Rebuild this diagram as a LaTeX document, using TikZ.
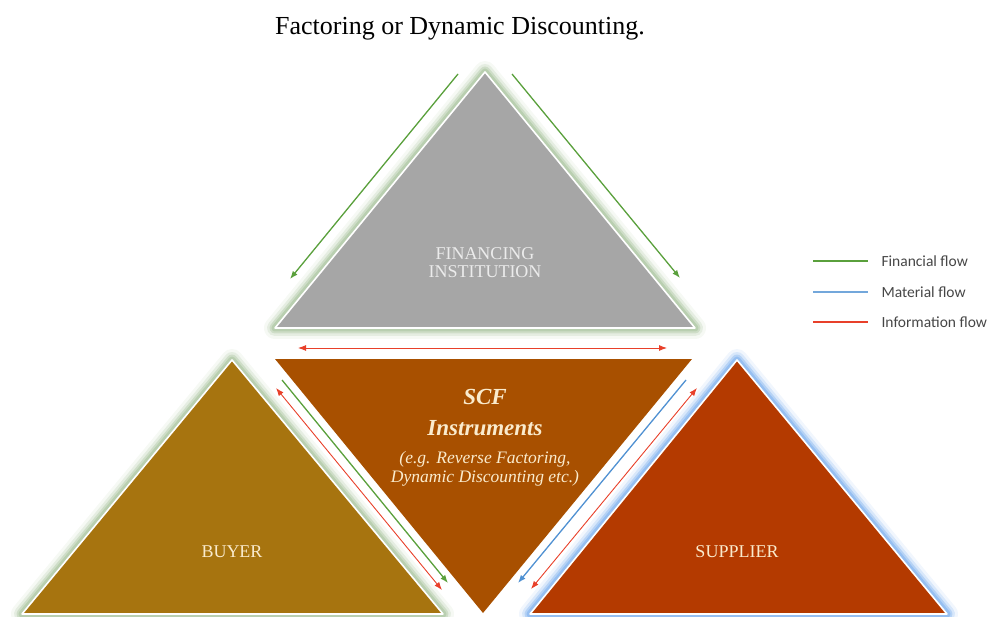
\documentclass[tikz,border=0pt]{standalone}
\usepackage{fontspec}
\setmainfont{Liberation Serif}
\newfontfamily\legendfont{Carlito}
\usetikzlibrary{arrows.meta}
\definecolor{finGrey}{RGB}{166,166,166}
\definecolor{scfBrown}{RGB}{168,80,0}
\definecolor{buyerOchre}{RGB}{167,116,15}
\definecolor{supRust}{RGB}{180,58,0}
\definecolor{haloGreen}{RGB}{178,202,168}
\definecolor{haloBlue}{RGB}{140,185,240}
\definecolor{flowGreen}{RGB}{90,160,60}
\definecolor{flowBlue}{RGB}{80,145,210}
\definecolor{flowRed}{RGB}{232,64,42}
\definecolor{labelCream}{RGB}{250,235,205}
\definecolor{legendText}{RGB}{70,70,70}
\tikzset{
  trifill/.style={draw=white, line width=1.6pt, line join=round},
  halo/.style={line join=round, draw=#1},
  flowarrow/.style={line width=1.3pt, -{Latex[length=8pt,width=6pt]}},
  infoarrow/.style={line width=0.9pt, draw=flowRed, {Latex[length=8pt,width=6pt]}-{Latex[length=8pt,width=6pt]}},
  triLabel/.style={font=\fontsize{18}{20}\selectfont, text=labelCream, align=center},
  legLine/.style={line width=2.6pt},
  legLabel/.style={anchor=west, font=\legendfont\fontsize{15.5}{17}\selectfont, text=legendText}
}
\begin{document}
\begin{tikzpicture}[x=1pt,y=-1pt]
\useasboundingbox (0,0) rectangle (990,617);
% vertices
\coordinate (fA) at (485,72);  \coordinate (fL) at (275,328); \coordinate (fR) at (695,328);
\coordinate (sL) at (275,359); \coordinate (sR) at (692,359); \coordinate (sB) at (483,613);
\coordinate (bA) at (232,360); \coordinate (bL) at (22,614);  \coordinate (bR) at (443,614);
\coordinate (pA) at (737,360); \coordinate (pL) at (530,614); \coordinate (pR) at (947,614);
% title
\node[font=\fontsize{26}{30}\selectfont, anchor=base] (title) at (460,35) {Factoring or Dynamic Discounting.};
% halos
\foreach \w/\o in {22/0.12, 16/0.25, 11/0.45, 7/0.75}{
  \draw[halo=haloGreen, line width=\w pt, opacity=\o] (fA)--(fL)--(fR)--cycle;
  \draw[halo=haloGreen, line width=\w pt, opacity=\o] (bA)--(bL)--(bR)--cycle;
  \draw[halo=haloBlue, line width=\w pt, opacity=\o] (pA)--(pL)--(pR)--cycle;
}
% triangles
\filldraw[trifill, fill=finGrey] (fA)--(fL)--(fR)--cycle;
\filldraw[trifill, fill=buyerOchre] (bA)--(bL)--(bR)--cycle;
\filldraw[trifill, fill=supRust] (pA)--(pL)--(pR)--cycle;
\fill[scfBrown] (sL)--(sR)--(sB)--cycle;
% labels
\node[triLabel, text=white!92!black] (fin) at (485,263) {FINANCING\\[-2pt]INSTITUTION};
\node[triLabel, anchor=base] (buyer) at (232,557) {BUYER};
\node[triLabel, anchor=base] (supp) at (737,557) {SUPPLIER};
\node[triLabel, anchor=base, font=\fontsize{23}{26}\selectfont\itshape\bfseries] (scfA) at (485,404) {SCF};
\node[triLabel, anchor=base, font=\fontsize{23}{26}\selectfont\itshape\bfseries] (scfB) at (485,435) {Instruments};
\node[triLabel, anchor=base, font=\fontsize{17.5}{19}\selectfont\itshape] (scfC) at (485,463) {(e.g. Reverse Factoring,};
\node[triLabel, anchor=base, font=\fontsize{17.5}{19}\selectfont\itshape] (scfD) at (485,482) {Dynamic Discounting etc.)};
% arrow endpoints
\coordinate (gL1) at (458,74); \coordinate (gL2) at (290,279);
\coordinate (gR1) at (512,74); \coordinate (gR2) at (680,278);
\coordinate (rT1) at (298,348); \coordinate (rT2) at (667,348);
\coordinate (gB1) at (282,380); \coordinate (gB2) at (448,583);
\coordinate (rB1) at (276,388); \coordinate (rB2) at (442,590);
\coordinate (bS1) at (686,380); \coordinate (bS2) at (518,583);
\coordinate (rS1) at (697,388); \coordinate (rS2) at (531,589);
% arrows
\draw[flowarrow, draw=flowGreen, fill=flowGreen] (gL1) -- (gL2);
\draw[flowarrow, draw=flowGreen, fill=flowGreen] (gR1) -- (gR2);
\draw[infoarrow] (rT1) -- (rT2);
\draw[flowarrow, draw=flowGreen] (gB1) -- (gB2);
\draw[infoarrow] (rB1) -- (rB2);
\draw[flowarrow, draw=flowBlue] (bS1) -- (bS2);
\draw[infoarrow] (rS1) -- (rS2);
% legend
\coordinate (l1a) at (813,261); \coordinate (l1b) at (868,261);
\coordinate (l2a) at (813,292); \coordinate (l2b) at (868,292);
\coordinate (l3a) at (813,322); \coordinate (l3b) at (868,322);
\draw[legLine, flowGreen] (l1a) -- (l1b);
\draw[legLine, flowBlue!80!white] (l2a) -- (l2b);
\draw[legLine, flowRed] (l3a) -- (l3b);
\node[legLabel] (leg1) at (878,261) {Financial flow};
\node[legLabel] (leg2) at (878,292) {Material flow};
\node[legLabel] (leg3) at (878,322) {Information flow};
\end{tikzpicture}
\end{document}
